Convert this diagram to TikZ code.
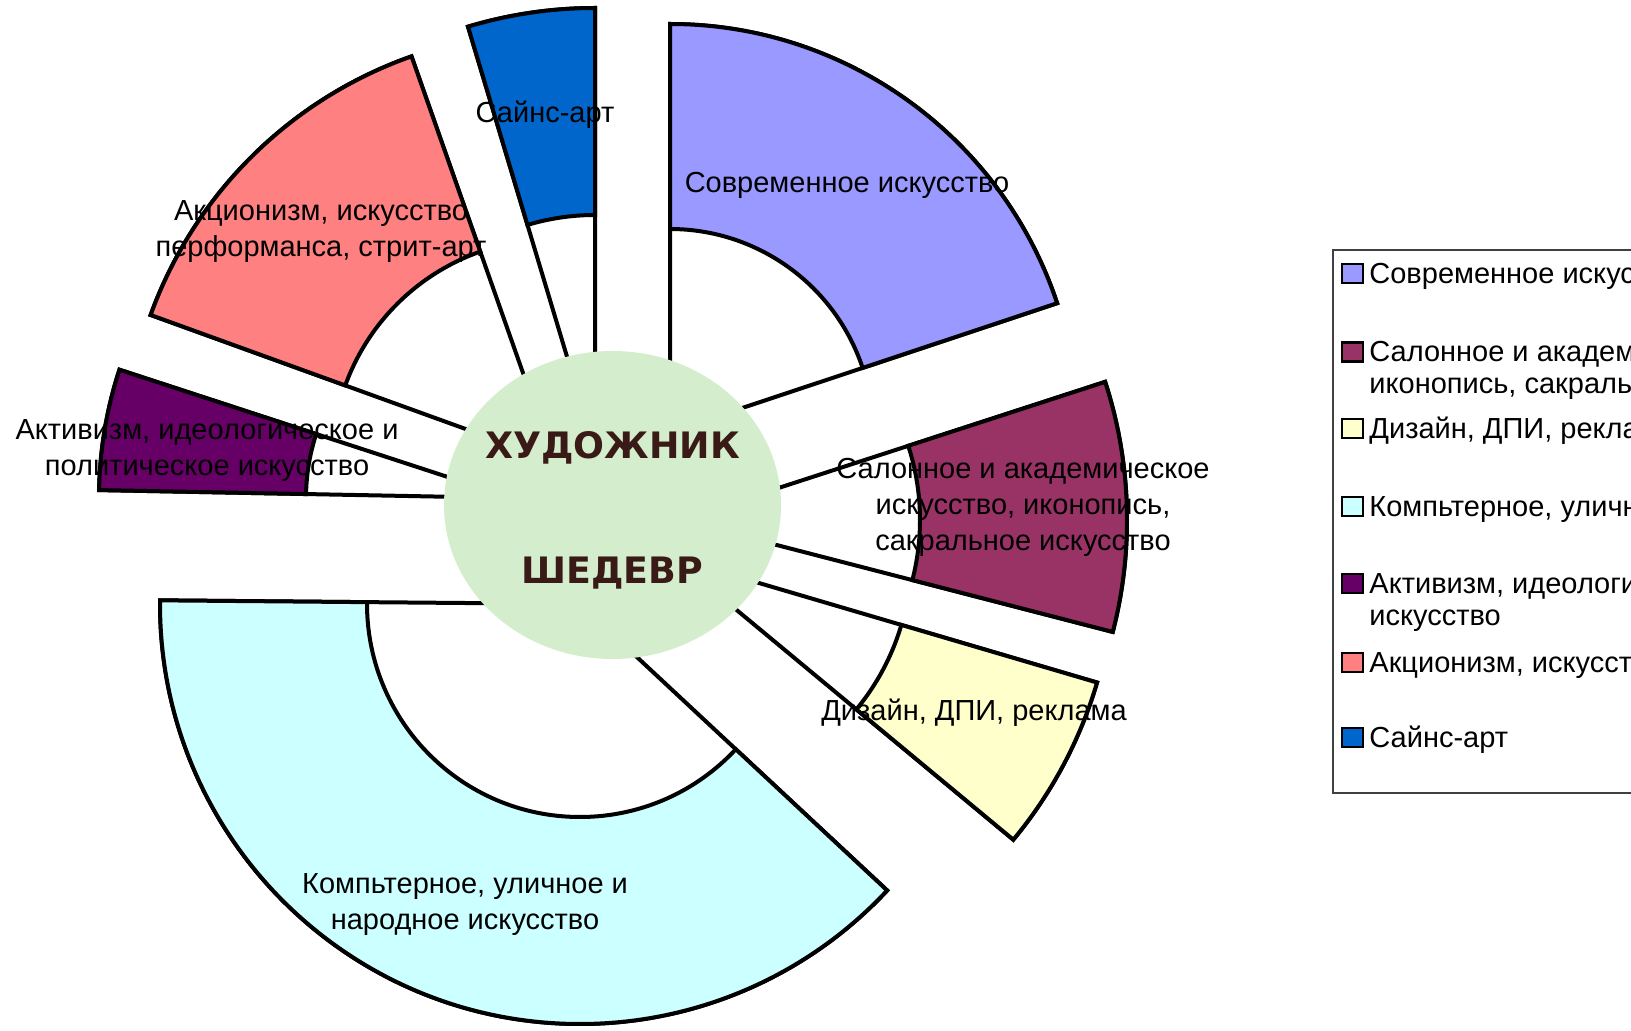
\documentclass[tikz,border=0pt]{standalone}
\usepackage{fontspec}
\setmainfont{Liberation Sans}
\newfontfamily\hubfont{DejaVu Sans}
\usetikzlibrary{calc,shapes.geometric}
\definecolor{sovr}{HTML}{9999FF}
\definecolor{salon}{HTML}{993366}
\definecolor{dizain}{HTML}{FFFFCC}
\definecolor{komp}{HTML}{CCFFFF}
\definecolor{aktiv}{HTML}{660066}
\definecolor{akcion}{HTML}{FF8080}
\definecolor{sains}{HTML}{0066CC}
\definecolor{hubfill}{HTML}{D4EECD}
\definecolor{hubink}{HTML}{3A1A16}
\tikzset{
  rim/.style={draw=black, line width=2pt, line join=miter},
  hub/.style={ellipse, fill=hubfill, minimum width=168.5pt, minimum height=154pt, inner sep=0pt},
  hubtext/.style={font=\hubfont\bfseries\fontsize{18.2}{22}\selectfont, text=hubink, inner sep=0pt, anchor=base},
  chartlbl/.style={font=\fontsize{14.5}{18}\selectfont, align=center, inner sep=0pt},
  legtext/.style={font=\fontsize{14.5}{16}\selectfont, align=left, inner sep=0pt, anchor=base west},
  legkey/.style={draw=black, line width=1.2pt, minimum width=10.5pt, minimum height=9.5pt, inner sep=0pt}
}
% one exploded sector: apex, start, end, inner radius, outer radius, colour
\newcommand{\pieslice}[6]{%
  \filldraw[rim, fill=white] (#1) -- ($(#1)+(#2:#5)$) arc[start angle=#2, end angle=#3, radius=#5] -- cycle; %
  \filldraw[rim, fill=#6] ($(#1)+(#2:#4)$) -- ($(#1)+(#2:#5)$) arc[start angle=#2, end angle=#3, radius=#5]
    -- ($(#1)+(#3:#4)$) arc[start angle=#3, end angle=#2, radius=#4] -- cycle; %
}

\begin{document}
\begin{tikzpicture}[x=0.5pt, y=0.5pt]
  \useasboundingbox (0,0) rectangle (1631,1030);
  \clip (0,0) rectangle (1631,1030);
  \fill[white] (0,0) rectangle (1631,1030);

  \coordinate (a-sovr)   at (670,598); %
  \coordinate (a-salon)  at (680,510); %
  \coordinate (a-dizain) at (674,472); %
  \coordinate (a-komp)   at (580,426); %
  \coordinate (a-aktiv)  at (512,532); %
  \coordinate (a-akcion) at (554,569); %
  \coordinate (a-sains)  at (595,580); %

  \pieslice{a-sovr}{18.4}{90}{203}{408}{sovr} %
  \pieslice{a-salon}{-14.5}{18}{240}{447}{salon} %
  \pieslice{a-dizain}{-39.7}{-16.4}{237}{441}{dizain} %
  \pieslice{a-komp}{179.5}{317}{213}{420}{komp} %
  \pieslice{a-aktiv}{161.9}{178.9}{206}{413}{aktiv} %
  \pieslice{a-akcion}{109.4}{160.1}{222}{429}{akcion} %
  \pieslice{a-sains}{90}{106.7}{235}{442}{sains} %

  \node[hub] (hub) at (612.5,525) {}; %
  \node[hubtext] (artist) at (612.5,572) {ХУДОЖНИК}; %
  \node[hubtext] (opus) at (612.5,447) {ШЕДЕВР}; %

  \node[chartlbl] (l-sains)  at (545,915) {Сайнс-арт}; %
  \node[chartlbl] (l-sovr)   at (847,845) {Современное искусство}; %
  \node[chartlbl] (l-akcion) at (321,798) {Акционизм, искусство\\перформанса, стрит-арт}; %
  \node[chartlbl] (l-aktiv)  at (207,579) {Активизм, идеологическое и\\политическое искусство}; %
  \node[chartlbl] (l-salon)  at (1023,523) {Салонное и академическое\\искусство, иконопись,\\сакральное искусство}; %
  \node[chartlbl] (l-dizain) at (974,317) {Дизайн, ДПИ, реклама}; %
  \node[chartlbl] (l-komp)   at (465,125) {Компьтерное, уличное и\\народное искусство}; %

  % legend
  \draw[black!75, line width=0.8pt] (1333,237) rectangle (1720,780);
  \node[legkey, fill=sovr]   (k-sovr)   at (1352.5,756.5) {}; %
  \node[legkey, fill=salon]  (k-salon)  at (1352.5,678) {}; %
  \node[legkey, fill=dizain] (k-dizain) at (1352.5,601.5) {}; %
  \node[legkey, fill=komp]   (k-komp)   at (1352.5,523.5) {}; %
  \node[legkey, fill=aktiv]  (k-aktiv)  at (1352.5,446.5) {}; %
  \node[legkey, fill=akcion] (k-akcion) at (1352.5,367.5) {}; %
  \node[legkey, fill=sains]  (k-sains)  at (1352.5,292.5) {}; %
  \node[legtext] (t-sovr)   at (1369,747) {Современное искусство}; %
  \node[legtext] (t-salon)  at (1369,637) {Салонное и академическое искусство,\\иконопись, сакральное искусство}; %
  \node[legtext] (t-dizain) at (1369,592) {Дизайн, ДПИ, реклама}; %
  \node[legtext] (t-komp)   at (1369,514) {Компьтерное, уличное и народное искусство}; %
  \node[legtext] (t-aktiv)  at (1369,405) {Активизм, идеологическое и политическое\\искусство}; %
  \node[legtext] (t-akcion) at (1369,358) {Акционизм, искусство перформанса, стрит-арт}; %
  \node[legtext] (t-sains)  at (1369,283) {Сайнс-арт}; %
\end{tikzpicture}
\end{document}
